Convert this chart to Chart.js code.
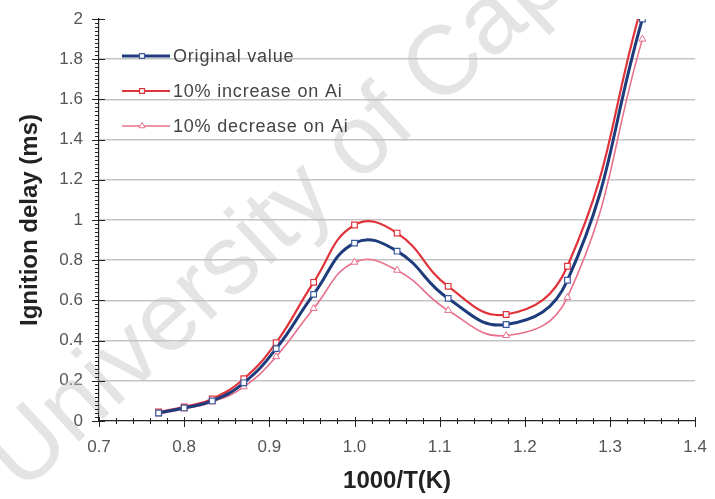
<!DOCTYPE html>
<html>
<head>
<meta charset="utf-8">
<script src="https://cdn.jsdelivr.net/npm/chart.js@4.4.1/dist/chart.umd.min.js"></script>
<style>
  html, body { margin: 0; padding: 0; background: #fff; }
  #wrap { width: 715px; height: 499px; position: relative; }
</style>
</head>
<body>
<div id="wrap"><canvas id="chart"></canvas></div>
<script>
const xValues = [0.77, 0.80, 0.833, 0.87, 0.908, 0.952, 1.0, 1.05, 1.11, 1.178, 1.25, 1.338];
const originalValues = [0.04, 0.065, 0.10, 0.19, 0.36, 0.63, 0.885, 0.845, 0.61, 0.48, 0.70, 2.0];
const increaseValues = [0.045, 0.07, 0.11, 0.21, 0.39, 0.69, 0.975, 0.935, 0.67, 0.53, 0.77, 2.08];
const decreaseValues = [0.035, 0.06, 0.095, 0.17, 0.32, 0.56, 0.79, 0.75, 0.55, 0.425, 0.615, 1.9];
const seriesLabels = ['Original value', '10% increase on Ai', '10% decrease on Ai'];
const xTickValues = [0.7, 0.8, 0.9, 1.0, 1.1, 1.2, 1.3, 1.4];
const xTickLabels = ['0.7', '0.8', '0.9', '1.0', '1.1', '1.2', '1.3', '1.4'];
const yTickLabels = ['0', '0.2', '0.4', '0.6', '0.8', '1', '1.2', '1.4', '1.6', '1.8', '2'];
const watermarkText = 'University of Cape Town';

const FONT = '"Liberation Sans", Arial, sans-serif';

function toPoints(ys) {
  return xValues.map((x, i) => ({ x, y: ys[i] }));
}

// faint diagonal watermark behind the curves
const watermark = {
  id: 'watermark',
  beforeDatasetsDraw(chart) {
    const { ctx } = chart;
    ctx.save();
    ctx.translate(22, 494);
    ctx.rotate(-0.745);
    ctx.font = '98px ' + FONT;
    ctx.fillStyle = 'rgba(190,190,190,0.42)';
    ctx.fillText(watermarkText, 0, 0);
    ctx.restore();
  }
};

// tick marks crossing the axes, majors and minors
const axisTicks = {
  id: 'axisTicks',
  afterDraw(chart) {
    const { ctx, chartArea, scales } = chart;
    const x = scales.x;
    const y = scales.y;
    ctx.save();
    ctx.strokeStyle = '#222';
    ctx.lineWidth = 1;
    ctx.beginPath();
    for (let i = 0; i <= 100; i++) {
      const v = i * 0.02;
      const py = Math.round(y.getPixelForValue(v)) + 0.5;
      const major = i % 10 === 0;
      ctx.moveTo(chartArea.left - (major ? 7 : 4), py);
      ctx.lineTo(chartArea.left + (major ? 6 : 0), py);
    }
    for (let i = 0; i <= 35; i++) {
      const v = 0.7 + i * 0.02;
      const px = Math.round(x.getPixelForValue(v)) + 0.5;
      const major = i % 5 === 0;
      ctx.moveTo(px, chartArea.bottom - (major ? 4 : 3));
      ctx.lineTo(px, chartArea.bottom + (major ? 6 : 3));
    }
    ctx.stroke();
    ctx.restore();
  }
};

// legend drawn inside the plot: line sample with marker, then text
const insideLegend = {
  id: 'insideLegend',
  afterDraw(chart) {
    const { ctx, chartArea } = chart;
    ctx.save();
    ctx.font = '18px ' + FONT;
    ctx.letterSpacing = '0.8px';
    ctx.textBaseline = 'middle';
    chart.data.datasets.forEach((ds, i) => {
      const yy = chartArea.top + 37 + i * 35;
      const x0 = chartArea.left + 23;
      const x1 = x0 + 48;
      ctx.strokeStyle = ds.borderColor;
      ctx.lineWidth = ds.borderWidth;
      ctx.beginPath();
      ctx.moveTo(x0, yy);
      ctx.lineTo(x1, yy);
      ctx.stroke();
      ctx.strokeStyle = ds.pointBorderColor;
      ctx.fillStyle = '#fff';
      ctx.lineWidth = ds.pointBorderWidth;
      Chart.helpers.drawPoint(ctx, {
        pointStyle: ds.pointStyle,
        radius: 3.5,
        borderWidth: ds.pointBorderWidth,
        rotation: 0
      }, x0 + 20, yy);
      ctx.fillStyle = '#444';
      ctx.fillText(ds.label, x1 + 3, yy + 1);
    });
    ctx.restore();
  }
};

const datasets = [
  {
    label: seriesLabels[0],
    data: toPoints(originalValues),
    borderColor: '#1e3c7c',
    backgroundColor: '#ffffff',
    borderWidth: 3,
    pointStyle: 'rect',
    pointRadius: 4,
    pointBorderWidth: 1.2,
    pointBorderColor: '#3a5aa0',
    tension: 0.45,
    order: 1
  },
  {
    label: seriesLabels[1],
    data: toPoints(increaseValues),
    borderColor: '#e0343c',
    backgroundColor: '#ffffff',
    borderWidth: 2.2,
    pointStyle: 'rect',
    pointRadius: 4,
    pointBorderWidth: 1.2,
    pointBorderColor: '#e0343c',
    tension: 0.45,
    order: 2
  },
  {
    label: seriesLabels[2],
    data: toPoints(decreaseValues),
    borderColor: '#e8708c',
    backgroundColor: '#ffffff',
    borderWidth: 1.6,
    pointStyle: 'triangle',
    pointRadius: 4,
    pointBorderWidth: 1,
    pointBorderColor: '#e8708c',
    tension: 0.45,
    order: 3
  }
];

new Chart(document.getElementById('chart').getContext('2d'), {
  type: 'line',
  data: { datasets },
  options: {
    responsive: true,
    maintainAspectRatio: false,
    animation: false,
    layout: { padding: { top: 19, right: 15, left: 0, bottom: 0 } },
    plugins: {
      legend: { display: false },
      tooltip: { enabled: false }
    },
    scales: {
      x: {
        type: 'linear',
        min: 0.7,
        max: 1.4,
        afterFit: (s) => { s.height = 78; },
        afterBuildTicks: (s) => { s.ticks = xTickValues.map((v) => ({ value: v })); },
        ticks: {
          color: '#555',
          font: { family: FONT, size: 17 },
          padding: 8,
          maxRotation: 0,
          callback: (v, i) => xTickLabels[i]
        },
        grid: { display: true, drawOnChartArea: false, tickLength: 8, tickColor: 'transparent' },
        border: { display: true, color: '#222', width: 1.2 },
        title: {
          display: true,
          text: '1000/T(K)',
          color: '#222',
          font: { family: FONT, size: 24, weight: 'bold' },
          padding: { top: 0, bottom: 3 }
        }
      },
      y: {
        min: 0,
        max: 2,
        afterFit: (s) => { s.width = 99; },
        ticks: {
          stepSize: 0.2,
          color: '#555',
          font: { family: FONT, size: 17 },
          padding: 8,
          callback: (v, i) => yTickLabels[i]
        },
        grid: {
          color: (c) => (c.tick && (c.tick.value === 0 || c.tick.value >= 1.99) ? 'transparent' : '#c4c4c4'),
          lineWidth: 1.5,
          tickLength: 8,
          tickColor: 'transparent'
        },
        border: { display: true, color: '#222', width: 1.2 },
        title: {
          display: true,
          text: 'Ignition delay (ms)',
          color: '#222',
          font: { family: FONT, size: 24, weight: 'bold' },
          padding: { top: 16, bottom: 0 }
        }
      }
    }
  },
  plugins: [watermark, axisTicks, insideLegend]
});
</script>
</body>
</html>
